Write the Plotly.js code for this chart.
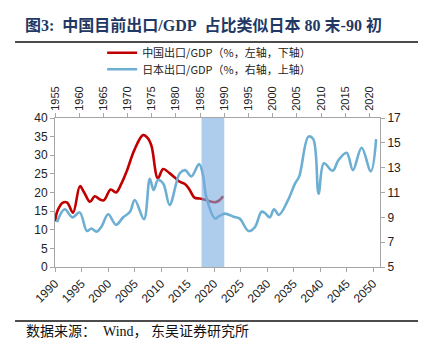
<!DOCTYPE html>
<html><head><meta charset="utf-8">
<script src="https://cdn.plot.ly/plotly-3.0.1.min.js"></script>
<style>html,body{margin:0;padding:0;background:#fff}#c{width:422px;height:349px}</style>
</head><body><div id="c"></div>
<script>
// China exports/GDP (%), left axis, bottom axis (years)
const chinaYears = [1990.0,1990.5,1991.5,1992.3,1993.4,1994.7,1995.5,1996.6,1997.5,1998.4,1999.2,2000.5,2001.5,2002.5,2003.5,2005.0,2006.6,2007.5,2008.2,2009.4,2010.4,2011.6,2012.6,2013.5,2014.5,2015.4,2016.3,2017.3,2018.5,2019.5,2020.2,2021.0,2021.7];
const chinaValues = [12.3,15.2,17.3,17.3,14.6,21.7,20.0,17.5,19.0,18.2,17.9,20.8,20.0,22.3,25.6,31.5,35.4,34.6,32.5,23.8,26.3,25.2,24.0,22.9,22.3,20.7,18.6,18.4,18.0,17.5,17.4,17.9,19.0];
// Japan exports/GDP (%), right axis, top axis (years)
const japanYears = [1955.4,1957.0,1958.6,1960.1,1961.6,1962.5,1963.6,1964.6,1966.0,1967.6,1969.1,1970.5,1971.5,1973.4,1974.6,1975.4,1976.3,1977.4,1978.7,1980.8,1981.9,1983.2,1984.8,1985.6,1986.3,1988.1,1988.75,1990.1,1991.9,1993.2,1995.0,1996.3,1997.7,1998.4,1999.4,2000.3,2001.3,2003.2,2004.6,2005.5,2007.4,2008.4,2009.5,2010.6,2012.4,2013.6,2015.3,2016.6,2018.4,2020.3,2021.4];
const japanValues = [8.6,9.65,9.0,9.4,7.9,8.1,7.85,8.25,9.25,8.4,9.0,9.45,10.4,8.85,12.1,11.2,12.0,11.7,10.0,12.55,12.8,12.3,13.3,12.4,10.6,8.9,9.05,9.3,9.05,8.9,7.9,8.2,9.45,9.35,9.0,9.65,9.2,10.4,11.7,12.3,15.5,15.3,10.9,13.35,12.75,13.6,14.2,12.8,14.6,12.7,15.3];
// highlighted period (Japan, top axis)
const bandYears = [1985.3, 1990];
const chinaName = "中国出口/GDP（%，左轴，下轴）";
const japanName = "日本出口/GDP（%，右轴，上轴）";
const titleText = "图3:\u00A0\u00A0中国目前出口/GDP\u00A0\u00A0占比类似日本\u00A080\u00A0末-90\u00A0初";
const sourceText = "数据来源：\u00A0\u00A0Wind，\u00A0东吴证券研究所";

const tickFont = {family: "Liberation Sans, Arial, sans-serif", size: 12, color: "#222"};
const axisCommon = {showgrid: false, zeroline: false, showline: true, linecolor: "#a6a6a6", linewidth: 1,
  ticks: "outside", ticklen: 4, tickcolor: "#a6a6a6", tickfont: tickFont};
const legendFont = {family: "Noto Sans CJK SC, sans-serif", size: 11, color: "#222"};

const traces = [
  {x: chinaYears, y: chinaValues, name: chinaName, type: "scatter", mode: "lines", legend: "legend",
   line: {color: "#C00000", width: 2.6, shape: "spline", smoothing: 1}, xaxis: "x", yaxis: "y"},
  {x: japanYears, y: japanValues, name: japanName, type: "scatter", mode: "lines", legend: "legend2",
   line: {color: "#6DAFD3", width: 2.6, shape: "spline", smoothing: 1}, xaxis: "x2", yaxis: "y2"}
];

const layout = {
  width: 422, height: 349,
  margin: {l: 55, r: 42, t: 118, b: 82},
  paper_bgcolor: "#fff", plot_bgcolor: "#fff",
  showlegend: true,
  title: {text: titleText, xref: "container", x: 25/422, xanchor: "left", yref: "container", y: 1 - 25/349, yanchor: "middle",
          font: {family: "Liberation Serif, Noto Sans CJK SC, serif", size: 16, color: "#1F3864", weight: "bold"}},
  legend: {x: 0.145, xanchor: "left", y: 1.438, yanchor: "middle", bgcolor: "rgba(0,0,0,0)", font: legendFont},
  legend2: {x: 0.145, xanchor: "left", y: 1.327, yanchor: "middle", bgcolor: "rgba(0,0,0,0)", font: legendFont},
  xaxis: Object.assign({}, axisCommon, {range: [1990, 2051.3], dtick: 5, tick0: 1990, tickangle: -45}),
  xaxis2: Object.assign({}, axisCommon, {range: [1955, 2022.2], dtick: 5, tick0: 1955, tickangle: -90, side: "top", overlaying: "x", anchor: "y", tickfont: Object.assign({}, tickFont, {size: 11})}),
  yaxis: Object.assign({}, axisCommon, {range: [0, 40], dtick: 5, tick0: 0}),
  yaxis2: Object.assign({}, axisCommon, {range: [5, 17], dtick: 2, tick0: 5, side: "right", overlaying: "y", anchor: "x"}),
  shapes: [
    {type: "rect", xref: "x2", yref: "paper", x0: bandYears[0], x1: bandYears[1], y0: 0, y1: 1,
     fillcolor: "rgba(120,170,222,0.6)", line: {width: 0}, layer: "above"},
    {type: "line", xref: "paper", yref: "paper", x0: -0.123, x1: 1.117, y0: 1.51, y1: 1.51, line: {color: "#111", width: 1.5}},
    {type: "line", xref: "paper", yref: "paper", x0: -0.123, x1: 1.117, y0: -0.362, y1: -0.362, line: {color: "#111", width: 1.5}}
  ],
  annotations: [
    {text: sourceText, xref: "paper", yref: "paper", x: -0.095, y: -0.436, xanchor: "left", yanchor: "middle", showarrow: false,
     font: {family: "Liberation Serif, Noto Sans CJK SC, serif", size: 14, color: "#111"}}
  ]
};
Plotly.newPlot("c", traces, layout, {staticPlot: true, displayModeBar: false});
</script></body></html>
